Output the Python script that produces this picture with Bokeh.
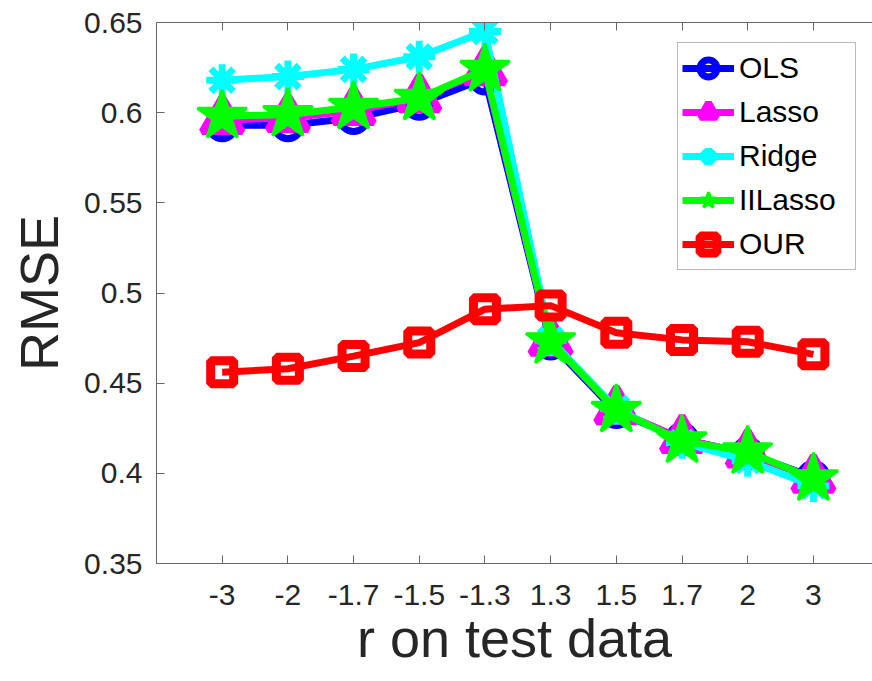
from bokeh.plotting import figure
from bokeh.models import (FixedTicker, CustomJSTickFormatter, LinearAxis, Range1d,
                          Legend, LegendItem)
from bokeh.embed import file_html
from bokeh.resources import INLINE

# ---- data ----
x_labels = ["-3", "-2", "-1.7", "-1.5", "-1.3", "1.3", "1.5", "1.7", "2", "3"]
ols = [0.593, 0.593, 0.597, 0.605, 0.619, 0.472, 0.434, 0.419, 0.411, 0.398]
lasso = [0.596, 0.597, 0.601, 0.608, 0.623, 0.473, 0.435, 0.419, 0.411, 0.397]
ridge = [0.618, 0.620, 0.624, 0.631, 0.645, 0.474, 0.436, 0.417, 0.407, 0.393]
illasso = [0.598, 0.599, 0.603, 0.608, 0.624, 0.473, 0.435, 0.418, 0.412, 0.397]
our = [0.456, 0.458, 0.465, 0.4725, 0.491, 0.493, 0.478, 0.474, 0.473, 0.466]
y_ticks = [0.35, 0.40, 0.45, 0.50, 0.55, 0.60, 0.65]

xpos = list(range(1, len(x_labels) + 1))

FONT = "Liberation Sans"
AXC = "#666666"
TXT = "#262626"

p = figure(width=872, height=681, x_range=Range1d(0, 10.9), y_range=Range1d(0.35, 0.65),
           output_backend="svg", toolbar_location=None,
           min_border_left=156, min_border_top=22, min_border_bottom=118, min_border_right=0)
p.grid.visible = False
p.outline_line_color = None
p.background_fill_color = "white"

# x axis
xa = p.xaxis[0]
xa.ticker = FixedTicker(ticks=xpos)
xa.major_label_overrides = {x: lab for x, lab in zip(xpos, x_labels)}
xa.axis_label = "r on test data"
# y axis
ya = p.yaxis[0]
ya.ticker = FixedTicker(ticks=y_ticks)
ya.formatter = CustomJSTickFormatter(code="return tick.toFixed(2).replace(/0$/, '');")
ya.axis_label = "RMSE"

for ax in (xa, ya):
    ax.axis_line_color = AXC
    ax.major_tick_line_color = AXC
    ax.major_tick_in = 8
    ax.major_tick_out = 0
    ax.minor_tick_line_color = None
    ax.major_label_text_font = FONT
    ax.major_label_text_font_size = "30px"
    ax.major_label_text_color = TXT
    ax.axis_label_text_font = FONT
    ax.axis_label_text_font_size = "54px"
    ax.axis_label_text_font_style = "normal"
    ax.axis_label_text_color = TXT
xa.major_label_standoff = 21
xa.axis_label_standoff = 0
xa.axis_label_text_line_height = 0.75
ya.major_label_standoff = 14
ya.axis_label_standoff = 12

top = LinearAxis(ticker=FixedTicker(ticks=xpos),
                 formatter=CustomJSTickFormatter(code="return '';"),
                 major_tick_in=8, major_tick_out=0, major_label_standoff=0,
                 minor_tick_line_color=None, axis_line_color=AXC, major_tick_line_color=AXC)
p.add_layout(top, "above")

LW = 7
l1 = p.line(xpos, ols, line_color="#0000ff", line_width=LW)
s1 = p.scatter(xpos, ols, marker="circle", size=27, line_color="#0000ff", fill_color=None, line_width=LW)
l2 = p.line(xpos, lasso, line_color="#ff00ff", line_width=LW)
s2 = p.scatter(xpos, lasso, marker="triangle", size=40, line_color="#ff00ff", fill_color=None, line_width=LW)
l3 = p.line(xpos, ridge, line_color="#00ffff", line_width=LW)
s3 = p.scatter(xpos, ridge, marker="asterisk", size=32, line_color="#00ffff", line_width=LW)
l4 = p.line(xpos, illasso, line_color="#00ff00", line_width=LW)
s4 = p.scatter(xpos, illasso, marker="star", size=52, line_color="#00ff00", fill_color="#00ff00", line_width=3)
l5 = p.line(xpos, our, line_color="#ff0000", line_width=LW)
s5 = p.scatter(xpos, our, marker="square", size=23, line_color="#ff0000", fill_color=None, line_width=9)

legend = Legend(items=[
    LegendItem(label="OLS", renderers=[l1, s1]),
    LegendItem(label="Lasso", renderers=[l2, s2]),
    LegendItem(label="Ridge", renderers=[l3, s3]),
    LegendItem(label="IILasso", renderers=[l4, s4]),
    LegendItem(label="OUR", renderers=[l5, s5]),
], location=(521, 293))
legend.label_text_font = FONT
legend.label_text_font_size = "30px"
legend.label_text_color = "black"
legend.glyph_width = 52
legend.glyph_height = 42
legend.label_height = 42
legend.label_width = 112
legend.label_standoff = 5
legend.spacing = 2
legend.padding = 4
legend.margin = 0
legend.border_line_color = "#777777"
legend.border_line_width = 1
legend.background_fill_color = "white"
legend.background_fill_alpha = 1
p.add_layout(legend)

open("out.html", "w").write(file_html(p, INLINE))
